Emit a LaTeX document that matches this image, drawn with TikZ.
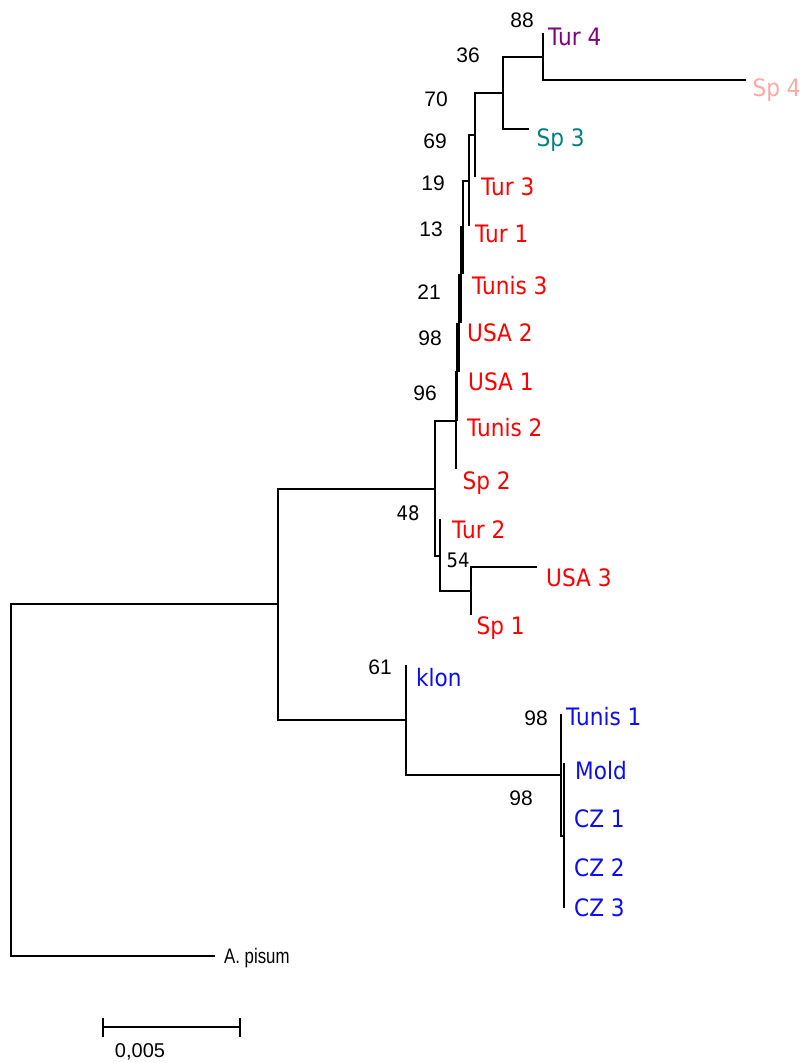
\documentclass[tikz,border=0pt]{standalone}
\usepackage{fontspec}
\setmainfont{DejaVu Sans}
\newfontfamily\numfont{Liberation Sans}
\usepackage{graphicx}
\newcommand{\hsq}[1]{\scalebox{0.9}[1]{#1}}
\newcommand{\hcond}[1]{\scalebox{0.8}[1]{#1}}
\definecolor{tred}{RGB}{255,0,0}
\definecolor{tblue}{RGB}{12,12,245}
\definecolor{tpurple}{RGB}{128,0,128}
\definecolor{tteal}{RGB}{0,128,128}
\definecolor{tpink}{RGB}{255,168,168}
\begin{document}
\begin{tikzpicture}[x=1pt,y=-1pt]
\tikzset{
  br/.style={line width=2pt, line join=miter},
  lab/.style={anchor=base west, inner sep=0pt, font=\fontsize{24}{24}\selectfont},
  bs/.style={anchor=center, inner sep=0pt, font=\numfont\fontsize{21}{21}\selectfont},
  bsd/.style={anchor=center, inner sep=0pt, font=\fontsize{20}{20}\selectfont}
}
\useasboundingbox (0,0) rectangle (808,1063);
% internal nodes
\coordinate (R) at (11,780);
\coordinate (X) at (278,604);
\coordinate (M) at (435,488.5);
\coordinate (J) at (440,556);
\coordinate (L) at (471,591);
\coordinate (I) at (456,421);
\coordinate (H) at (457,372);
\coordinate (G) at (459,323.5);
\coordinate (F) at (461,275);
\coordinate (E) at (463,227);
\coordinate (D) at (469,180.5);
\coordinate (A) at (475,135);
\coordinate (B) at (503,92.5);
\coordinate (C) at (543,56.5);
\coordinate (K) at (406,719.5);
\coordinate (P) at (561,774.5);
\coordinate (Q) at (564,835.5);
% leaves
\coordinate (lTur4) at (543,33);
\coordinate (lSp4) at (746,80);
\coordinate (lSp3) at (529,129);
\coordinate (lTur3) at (475,177);
\coordinate (lTur1) at (469,226);
\coordinate (lTunis3) at (463,274);
\coordinate (lUSA2) at (461,323);
\coordinate (lUSA1) at (459,372);
\coordinate (lTunis2) at (457,421);
\coordinate (lSp2) at (456,469);
\coordinate (lTur2) at (440,519);
\coordinate (lUSA3) at (537,567);
\coordinate (lSp1) at (471,615);
\coordinate (lklon) at (406,665);
\coordinate (lTunis1) at (561,714);
\coordinate (lMold) at (564,763);
\coordinate (lCZ1) at (564,811);
\coordinate (lCZ2) at (564,860);
\coordinate (lCZ3) at (564,908);
\coordinate (lApis) at (215,956);
% branches
\draw[br] (R) |- (X);
\draw[br] (R) |- (lApis);
\draw[br] (X) |- (M);
\draw[br] (X) |- (K);
\draw[br] (M) |- (I);
\draw[br] (M) |- (J);
\draw[br] (J) |- (lTur2);
\draw[br] (J) |- (L);
\draw[br] (L) |- (lUSA3);
\draw[br] (L) |- (lSp1);
\draw[br] (I) |- (H);
\draw[br] (I) |- (lSp2);
\draw[br] (H) |- (G);
\draw[br] (H) |- (lTunis2);
\draw[br] (G) |- (F);
\draw[br] (G) |- (lUSA1);
\draw[br] (F) |- (E);
\draw[br] (F) |- (lUSA2);
\draw[br] (E) |- (D);
\draw[br] (E) |- (lTunis3);
\draw[br] (D) |- (A);
\draw[br] (D) |- (lTur1);
\draw[br] (A) |- (B);
\draw[br] (A) |- (lTur3);
\draw[br] (B) |- (C);
\draw[br] (B) |- (lSp3);
\draw[br] (C) |- (lTur4);
\draw[br] (C) |- (lSp4);
\draw[br] (K) |- (lklon);
\draw[br] (K) |- (P);
\draw[br] (P) |- (lTunis1);
\draw[br] (P) |- (Q);
\draw[br] (Q) |- (lMold);
\draw[br] (Q) |- (lCZ1);
\draw[br] (Q) |- (lCZ2);
\draw[br] (Q) |- (lCZ3);
% taxon labels
\node[lab, text=tpurple] (tTur4) at (548,45.7) {\hsq{Tur 4}};
\node[lab, text=tpink] (tSp4) at (752.5,96.2) {\hsq{Sp 4}};
\node[lab, text=tteal] (tSp3) at (536.5,146.2) {\hsq{Sp 3}};
\node[lab, text=tred] (tTur3) at (481,195.7) {\hsq{Tur 3}};
\node[lab, text=tred] (tTur1) at (475,242.2) {\hsq{Tur 1}};
\node[lab, text=tred] (tTunis3) at (472,294.7) {\hsq{Tunis 3}};
\node[lab, text=tred] (tUSA2) at (467,341.7) {\hsq{USA 2}};
\node[lab, text=tred] (tUSA1) at (468,390.2) {\hsq{USA 1}};
\node[lab, text=tred] (tTunis2) at (467,436.7) {\hsq{Tunis 2}};
\node[lab, text=tred] (tSp2) at (462.5,489.2) {\hsq{Sp 2}};
\node[lab, text=tred] (tTur2) at (452,538.7) {\hsq{Tur 2}};
\node[lab, text=tred] (tUSA3) at (546,586.2) {\hsq{USA 3}};
\node[lab, text=tred] (tSp1) at (476.5,634.7) {\hsq{Sp 1}};
\node[lab, text=tblue] (tklon) at (416,686.2) {\hsq{klon}};
\node[lab, text=tblue] (tTunis1) at (566,725.2) {\hsq{Tunis 1}};
\node[lab, text=tblue] (tMold) at (575,779.7) {\hsq{Mold}};
\node[lab, text=tblue] (tCZ1) at (574,827.7) {\hsq{CZ 1}};
\node[lab, text=tblue] (tCZ2) at (574,876.2) {\hsq{CZ 2}};
\node[lab, text=tblue] (tCZ3) at (574,916.2) {\hsq{CZ 3}};
\node[anchor=base west, inner sep=0pt, font=\numfont\fontsize{21}{21}\selectfont] (tApis) at (224,963.5) {\hcond{A.\ pisum}};
% bootstrap values
\node[bs] (b88) at (522,20) {88};
\node[bs] (b36) at (468,55) {36};
\node[bs] (b70) at (436,99) {70};
\node[bs] (b69) at (435,141) {69};
\node[bs] (b19) at (433,183) {19};
\node[bs] (b13) at (431,229) {13};
\node[bs] (b21) at (429,292) {21};
\node[bs] (b98a) at (430,338) {98};
\node[bs] (b96) at (425,393) {96};
\node[bsd] (b48) at (408,513) {\hsq{48}};
\node[bsd] (b54) at (458,560) {\hsq{54}};
\node[bs] (b61) at (380,667) {61};
\node[bs] (b98b) at (536,718) {98};
\node[bs] (b98c) at (521,798) {98};
% scale bar
\coordinate (sbL) at (103,1027);
\coordinate (sbR) at (240,1027);
\draw[br] (sbL) -- (sbR);
\draw[br] (sbL) ++(0,-9.5) -- ++(0,19);
\draw[br] (sbR) ++(0,-9.5) -- ++(0,19);
\node[anchor=center, inner sep=0pt, font=\numfont\fontsize{20}{20}\selectfont] (tscale) at (140,1051.5) {0,005};
\end{tikzpicture}
\end{document}
